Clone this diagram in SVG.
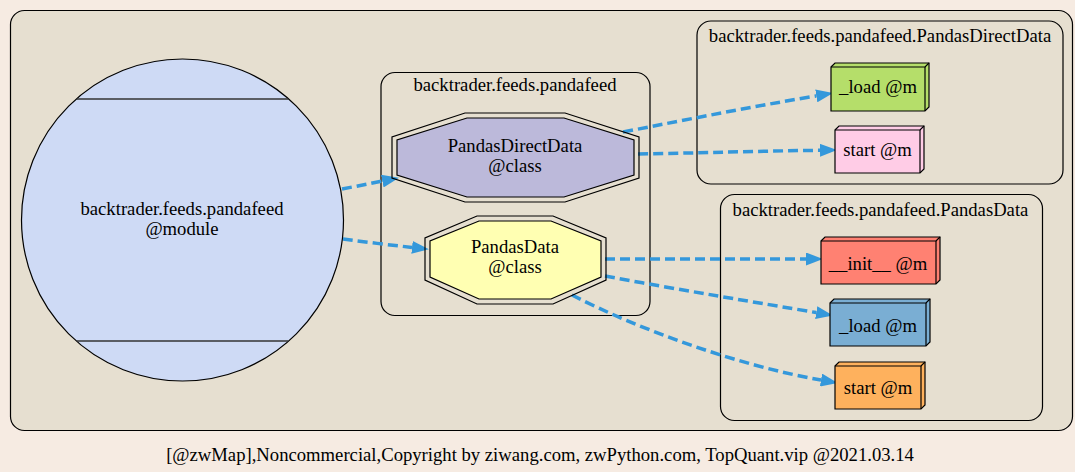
<svg xmlns="http://www.w3.org/2000/svg" width="1075" height="472" viewBox="0 0 1075 472">
<style>
text{font-family:"Liberation Serif","Times New Roman",serif;font-size:18.67px;fill:#000;text-anchor:middle}
.cl{fill:#e6dfd0;stroke:#000;stroke-width:1.2}
.nd{stroke:#000;stroke-width:1.2}
.ed{fill:none;stroke:#3498db;stroke-width:3.5;stroke-dasharray:10,5}
</style>
<defs>
<marker id="ah" markerUnits="userSpaceOnUse" markerWidth="17" markerHeight="13" viewBox="0 0 17 13" refX="0" refY="6.5" orient="auto">
<path d="M0,0 L17,6.5 L0,13 z" fill="#3498db"/>
</marker>
</defs>
<rect x="0" y="0" width="1075" height="472" fill="#f6ebe2"/>
<g id="cluster_main"><rect class="cl" x="10.5" y="10.5" width="1062" height="420" rx="14"/></g>
<g id="cluster_pandafeed"><rect class="cl" x="381" y="72.5" width="269" height="243" rx="14"/><text x="515" y="91">backtrader.feeds.pandafeed</text></g>
<g id="cluster_PandasDirectData"><rect class="cl" x="697" y="21" width="366" height="163" rx="14"/><text x="880" y="42">backtrader.feeds.pandafeed.PandasDirectData</text></g>
<g id="cluster_PandasData"><rect class="cl" x="720.5" y="194.5" width="322" height="226" rx="14"/><text x="880.5" y="216">backtrader.feeds.pandafeed.PandasData</text></g>

<g id="edges">
<path class="ed" d="M342,189 C355,186.5 368,184 382.3,181.1" marker-end="url(#ah)"/>
<path class="ed" d="M343,239 C365,242 390,245 412,247.4" marker-end="url(#ah)"/>
<path class="ed" d="M623,132 C690,119 750,107 816.3,95.9" marker-end="url(#ah)"/>
<path class="ed" d="M638,154 C700,153 760,151 820,150.3" marker-end="url(#ah)"/>
<path class="ed" d="M605,259 L806,259" marker-end="url(#ah)"/>
<path class="ed" d="M605,276 C680,290 760,303 816.2,312.6" marker-end="url(#ah)"/>
<path class="ed" d="M572,295 C640,330 740,366 821,380" marker-end="url(#ah)"/>
</g>

<g id="node_module">
<circle class="nd" cx="182.5" cy="220" r="161" fill="#cedaf5"/>
<line x1="77" y1="99" x2="288" y2="99" stroke="#333" stroke-width="1.5"/>
<line x1="77" y1="341" x2="288" y2="341" stroke="#333" stroke-width="1.5"/>
<text x="182" y="215">backtrader.feeds.pandafeed</text>
<text x="182" y="235">@module</text>
</g>

<g id="node_PandasDirectData">
<polygon class="nd" fill="none" points="465,113 565,113 639,137 639,178 565,202 465,202 392,178 392,137"/>
<polygon class="nd" fill="#bcb9da" points="467,118 564,118 634,140 634,175 564,197 467,197 397,175 397,140"/>
<text x="515" y="152">PandasDirectData</text>
<text x="515" y="172">@class</text>
</g>

<g id="node_PandasData">
<polygon class="nd" fill="none" points="477,216 553,216 606,238 606,280 553,304 477,304 425,280 425,238"/>
<polygon class="nd" fill="#ffffb2" points="479,221 551,221 601,241 601,277 551,299 479,299 430,277 430,241"/>
<text x="515" y="253">PandasData</text>
<text x="515" y="273">@class</text>
</g>

<g id="node_PDD_load">
<polygon class="nd" fill="#b5de6a" points="831,67 835,63 929,63 929,107 925,111 831,111"/>
<polyline fill="none" stroke="#000" stroke-width="1.2" points="831,67 925,67 929,63"/>
<line x1="925" y1="67" x2="925" y2="111" stroke="#000" stroke-width="1.2"/>
<text x="878" y="93">_load @m</text>
</g>

<g id="node_PDD_start">
<polygon class="nd" fill="#ffcce6" points="835,130 839,126 924,126 924,169 920,173 835,173"/>
<polyline fill="none" stroke="#000" stroke-width="1.2" points="835,130 920,130 924,126"/>
<line x1="920" y1="130" x2="920" y2="173" stroke="#000" stroke-width="1.2"/>
<text x="877.5" y="156">start @m</text>
</g>

<g id="node_PD_init">
<polygon class="nd" fill="#ff8172" points="821,241 825,237 940,237 940,280 936,284 821,284"/>
<polyline fill="none" stroke="#000" stroke-width="1.2" points="821,241 936,241 940,237"/>
<line x1="936" y1="241" x2="936" y2="284" stroke="#000" stroke-width="1.2"/>
<text x="878" y="270">__init__ @m</text>
</g>

<g id="node_PD_load">
<polygon class="nd" fill="#7aaed3" points="830,303 834,299 930,299 930,342 926,346 830,346"/>
<polyline fill="none" stroke="#000" stroke-width="1.2" points="830,303 926,303 930,299"/>
<line x1="926" y1="303" x2="926" y2="346" stroke="#000" stroke-width="1.2"/>
<text x="878" y="332">_load @m</text>
</g>

<g id="node_PD_start">
<polygon class="nd" fill="#feb15d" points="835,366 839,362 925,362 925,405 921,409 835,409"/>
<polyline fill="none" stroke="#000" stroke-width="1.2" points="835,366 921,366 925,362"/>
<line x1="921" y1="366" x2="921" y2="409" stroke="#000" stroke-width="1.2"/>
<text x="878" y="394">start @m</text>
</g>

<text x="540" y="461">[@zwMap],Noncommercial,Copyright by ziwang.com, zwPython.com, TopQuant.vip @2021.03.14</text>
</svg>
